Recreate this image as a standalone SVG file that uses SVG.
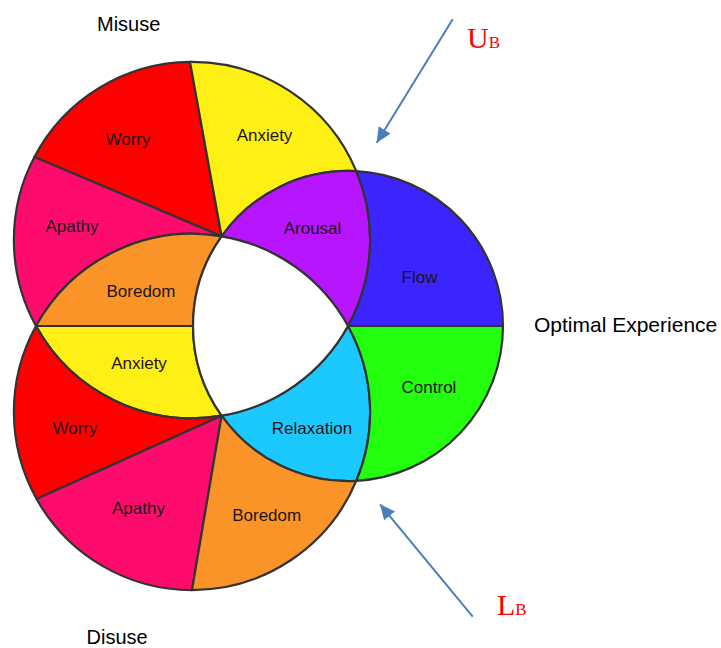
<svg xmlns="http://www.w3.org/2000/svg" width="721" height="648" viewBox="0 0 721 648">
  <defs>
    <style>
      .reg { stroke: #333333; stroke-width: 2.2; stroke-linejoin: round; }
      .red { fill: #fe0000; }
      .yellow { fill: #fef014; }
      .pink { fill: #fe0b6e; }
      .orange { fill: #fb9428; }
      .purple { fill: #b615fe; }
      .blue { fill: #3b24fe; }
      .green { fill: #23fe0e; }
      .cyan { fill: #1cc9fe; }
      .white { fill: #ffffff; }
      .lbl { font-family: "Liberation Sans", Arial, sans-serif; font-size: 17px; fill: #1e1414; text-anchor: middle; }
      .side { font-family: "Liberation Sans", Arial, sans-serif; font-size: 20px; fill: #000000; }
      .bound { font-family: "Liberation Serif", "Times New Roman", serif; fill: #ff0000; }
      .arrow { stroke: #4a7ebb; stroke-width: 2; fill: none; }
    </style>
    <marker id="head" markerUnits="userSpaceOnUse" markerWidth="16" markerHeight="14" refX="15" refY="7" orient="auto">
      <path d="M0,0 L15,7 L0,14 Z" fill="#4a7ebb"/>
    </marker>
  </defs>

  <rect x="0" y="0" width="721" height="648" fill="#ffffff"/>

  <!-- upper circle: centre (192,240), r 178.13 -->
  <g id="upper-worry">
    <path class="reg red" d="M221.6,236.3 L34.4,157 A178.13,178.13 0 0 1 190,61.9 Z"/>
    <text class="lbl" x="128" y="145">Worry</text>
  </g>
  <g id="upper-anxiety">
    <path class="reg yellow" d="M221.6,236.3 L190,61.9 A178.13,178.13 0 0 1 356.3,171.2 A155,155 0 0 0 221.6,236.3 Z"/>
    <text class="lbl" x="264.5" y="141">Anxiety</text>
  </g>
  <g id="upper-apathy">
    <path class="reg pink" d="M221.6,236.3 L34.4,157 A178.13,178.13 0 0 0 36,326 A178.13,178.13 0 0 1 221.6,236.3 Z"/>
    <text class="lbl" x="72" y="232">Apathy</text>
  </g>

  <!-- lens shared by upper and lower circles -->
  <g id="lens-boredom">
    <path class="reg orange" d="M36,326 A178.13,178.13 0 0 1 221.6,236.3 A155,155 0 0 0 193,326 Z"/>
    <text class="lbl" x="141" y="297">Boredom</text>
  </g>
  <g id="lens-anxiety">
    <path class="reg yellow" d="M36,326 L193,326 A155,155 0 0 0 221.6,415.7 A178.13,178.13 0 0 1 36,326 Z"/>
    <text class="lbl" x="139" y="369">Anxiety</text>
  </g>

  <!-- overlaps with the right circle -->
  <g id="arousal">
    <path class="reg purple" d="M221.6,236.3 A155,155 0 0 1 356.3,171.2 A178.13,178.13 0 0 1 348,326 A178.13,178.13 0 0 0 221.6,236.3 Z"/>
    <text class="lbl" x="312.5" y="234">Arousal</text>
  </g>
  <g id="relaxation">
    <path class="reg cyan" d="M221.6,415.7 A155,155 0 0 0 356.3,480.8 A178.13,178.13 0 0 0 348,326 A178.13,178.13 0 0 1 221.6,415.7 Z"/>
    <text class="lbl" x="312" y="434">Relaxation</text>
  </g>

  <!-- right circle: centre (348,326), r 155 -->
  <g id="flow">
    <path class="reg blue" d="M348,326 L503,326 A155,155 0 0 0 356.3,171.2 A178.13,178.13 0 0 1 348,326 Z"/>
    <text class="lbl" x="419.5" y="283">Flow</text>
  </g>
  <g id="control">
    <path class="reg green" d="M348,326 L503,326 A155,155 0 0 1 356.3,480.8 A178.13,178.13 0 0 0 348,326 Z"/>
    <text class="lbl" x="429" y="393">Control</text>
  </g>

  <!-- lower circle: centre (192,412), r 178.13 -->
  <g id="lower-worry">
    <path class="reg red" d="M221.6,415.7 L36.6,499 A178.13,178.13 0 0 1 36,326 A178.13,178.13 0 0 0 221.6,415.7 Z"/>
    <text class="lbl" x="75" y="434">Worry</text>
  </g>
  <g id="lower-apathy">
    <path class="reg pink" d="M221.6,415.7 L192,590.1 A178.13,178.13 0 0 1 36.6,499 Z"/>
    <text class="lbl" x="138.5" y="514">Apathy</text>
  </g>
  <g id="lower-boredom">
    <path class="reg orange" d="M221.6,415.7 L192,590.1 A178.13,178.13 0 0 0 356.3,480.8 A155,155 0 0 1 221.6,415.7 Z"/>
    <text class="lbl" x="266.7" y="521">Boredom</text>
  </g>

  <!-- region common to all three circles -->
  <g id="centre">
    <path class="reg white" d="M221.6,236.3 A178.13,178.13 0 0 1 348,326 A178.13,178.13 0 0 1 221.6,415.7 A155,155 0 0 1 221.6,236.3 Z"/>
  </g>

  <g id="misuse"><text class="side" x="97" y="31">Misuse</text></g>
  <g id="disuse"><text class="side" x="86.5" y="644">Disuse</text></g>
  <g id="optimal"><text class="side" x="534" y="332" style="font-size:21px">Optimal Experience</text></g>

  <g id="upper-bound">
    <text class="bound" x="467" y="48"><tspan style="font-size:30px">U</tspan><tspan style="font-size:17px">B</tspan></text>
  </g>
  <g id="lower-bound">
    <text class="bound" x="497" y="615"><tspan style="font-size:30px">L</tspan><tspan style="font-size:17px">B</tspan></text>
  </g>

  <g id="connectors">
    <line class="arrow" x1="452.7" y1="19.3" x2="376.7" y2="142.7" marker-end="url(#head)"/>
    <line class="arrow" x1="472.7" y1="616.7" x2="380" y2="504.3" marker-end="url(#head)"/>
  </g>
</svg>
